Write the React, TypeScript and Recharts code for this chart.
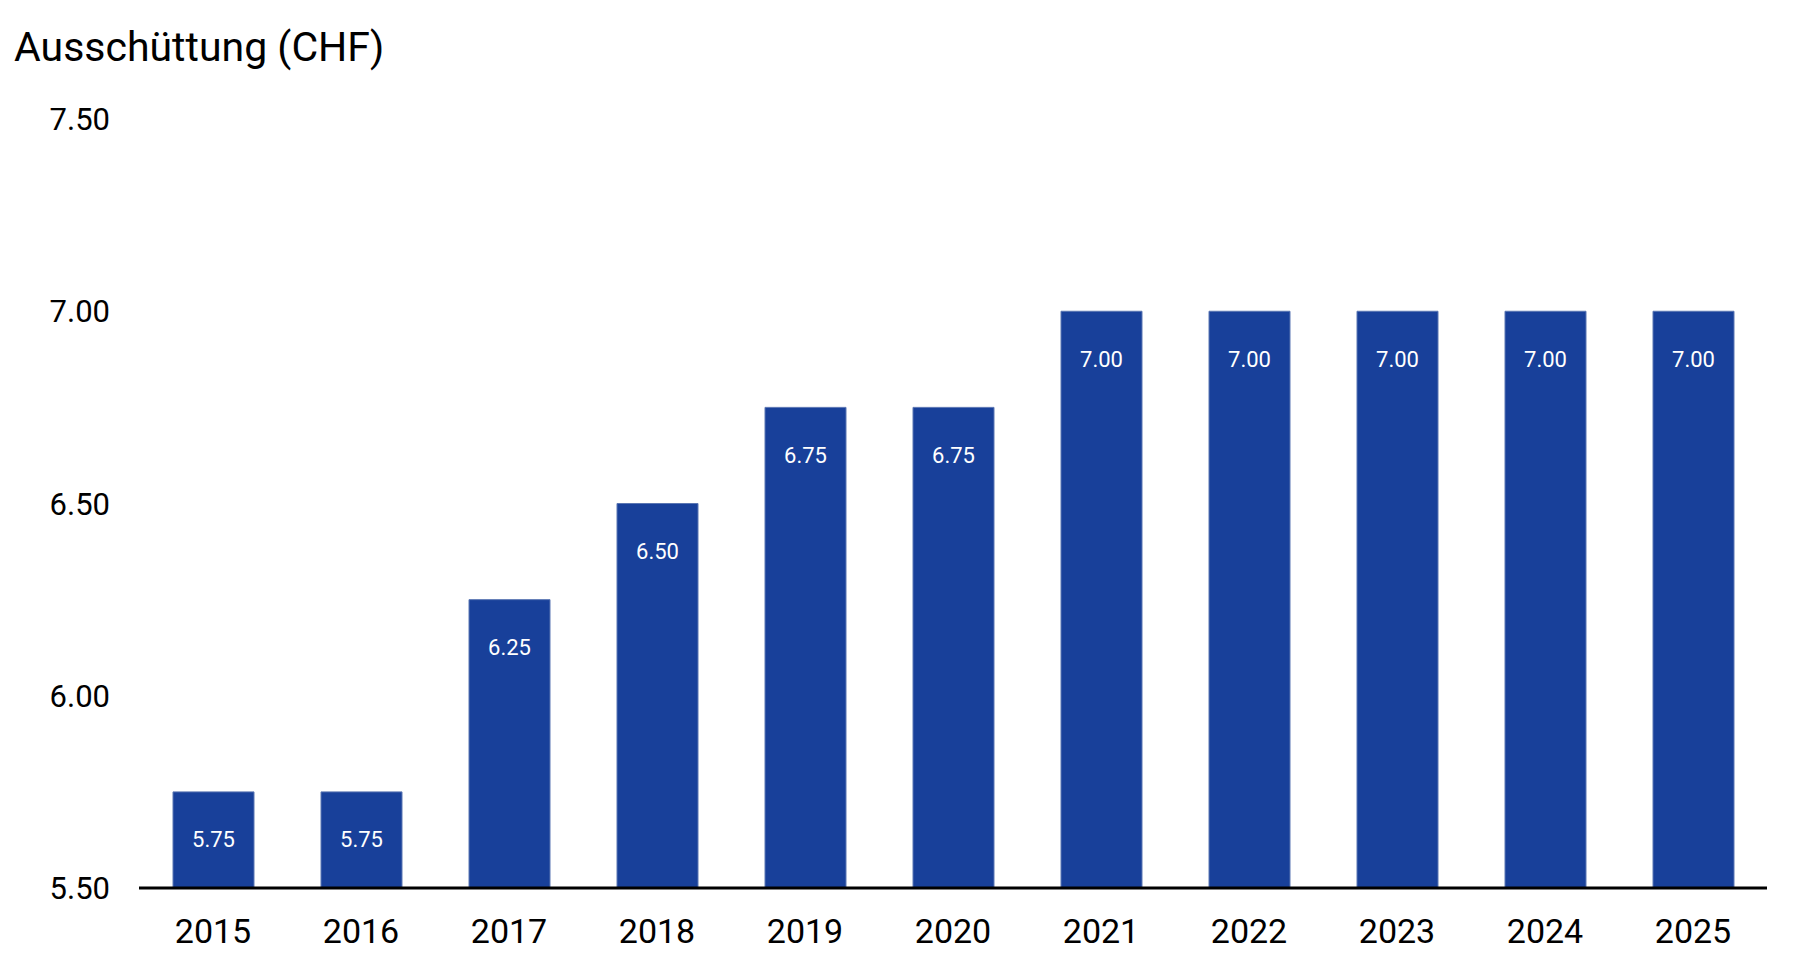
import { Bar, BarChart, LabelList, XAxis, YAxis } from "recharts";

const years = ["2015", "2016", "2017", "2018", "2019", "2020", "2021", "2022", "2023", "2024", "2025"];
const payouts = [5.75, 5.75, 6.25, 6.5, 6.75, 6.75, 7.0, 7.0, 7.0, 7.0, 7.0];
const yTicks = [5.5, 6.0, 6.5, 7.0, 7.5];

const data = years.map((year, i) => ({ year, payout: payouts[i] }));

const font = "Roboto, 'Noto Sans', sans-serif";
const barColor = "#18409a";

function BarValue(props: any) {
	const { x, y, width, value } = props;
	return (
		<text
			x={Number(x) + Number(width) / 2}
			y={Number(y) + 48}
			textAnchor="middle"
			dominantBaseline="central"
			fill="#ffffff"
			fontSize={22}
			fontFamily={font}
		>
			{Number(value).toFixed(2)}
		</text>
	);
}

export default function App() {
	return (
		<div style={{ position: "absolute", left: 0, top: 0, width: 1794, height: 976, background: "#fff" }}>
			<div
				style={{
					position: "absolute",
					left: 14,
					top: 27,
					fontFamily: font,
					fontSize: 41,
					lineHeight: "40px",
					color: "#000",
					whiteSpace: "nowrap",
				}}
			>
				Ausschüttung (CHF)
			</div>
			<BarChart width={1794} height={976} data={data} margin={{ top: 119, right: 27, bottom: 0, left: 0 }}>
				<XAxis
					dataKey="year"
					height={88}
					tickLine={false}
					tickSize={0}
					tickMargin={31}
					axisLine={{ stroke: "#000", strokeWidth: 3 }}
					tick={{ fill: "#000", fontSize: 34, fontFamily: font }}
					interval={0}
				/>
				<YAxis
					type="number"
					domain={[5.5, 7.5]}
					ticks={yTicks}
					width={139}
					axisLine={false}
					tickLine={false}
					tickSize={0}
					tickMargin={29}
					tickFormatter={(v: number) => v.toFixed(2)}
					tick={{ fill: "#000", fontSize: 31, fontFamily: font }}
				/>
				<Bar
					dataKey="payout"
					fill={barColor}
					stroke="#5a76b3"
					strokeWidth={1}
					barSize={81}
					isAnimationActive={false}
				>
					<LabelList dataKey="payout" content={BarValue} />
				</Bar>
			</BarChart>
		</div>
	);
}
